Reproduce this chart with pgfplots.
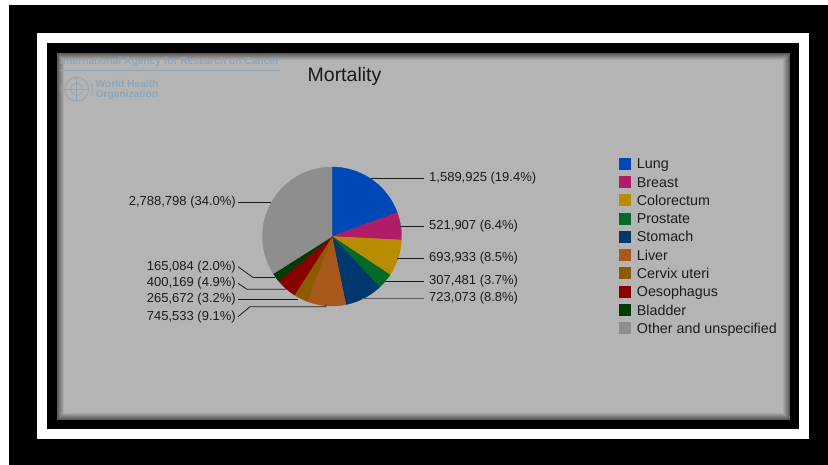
\documentclass[border=0pt]{standalone}
\usepackage{fontspec}
\setmainfont{Liberation Sans}
\usepackage{pgfplots}
\pgfplotsset{compat=1.18}
\definecolor{cLung}{HTML}{0048B8}
\definecolor{cBreast}{HTML}{B01C68}
\definecolor{cColo}{HTML}{B88C00}
\definecolor{cProst}{HTML}{006A26}
\definecolor{cStom}{HTML}{00386E}
\definecolor{cLiver}{HTML}{A8581A}
\definecolor{cCervix}{HTML}{8C5A00}
\definecolor{cOeso}{HTML}{880000}
\definecolor{cBlad}{HTML}{003C00}
\definecolor{cOther}{HTML}{8E8E8E}
\definecolor{panel}{HTML}{B4B4B4}
\definecolor{logo}{HTML}{8FA5B8}
\definecolor{txt}{HTML}{1C1C1C}
% shares (per cent) of the 10 categories
\def\pLung{19.4}
\def\pBreast{6.4}
\def\pColo{8.5}
\def\pProst{3.7}
\def\pStom{8.8}
\def\pLiver{9.1}
\def\pCervix{3.2}
\def\pOeso{4.9}
\def\pBlad{2.0}
\def\pOther{34.0}
\pgfmathsetmacro\aA{90}
\pgfmathsetmacro\aB{\aA-3.6*\pLung}
\pgfmathsetmacro\aC{\aB-3.6*\pBreast}
\pgfmathsetmacro\aD{\aC-3.6*\pColo}
\pgfmathsetmacro\aE{\aD-3.6*\pProst}
\pgfmathsetmacro\aF{\aE-3.6*\pStom}
\pgfmathsetmacro\aG{\aF-3.6*\pLiver}
\pgfmathsetmacro\aH{\aG-3.6*\pCervix}
\pgfmathsetmacro\aI{\aH-3.6*\pOeso}
\pgfmathsetmacro\aJ{\aI-3.6*\pBlad}
\pgfmathsetmacro\aK{\aJ-3.6*\pOther}
\def\cx{332}
\def\cy{228.5}
\def\rr{69.5}
\newcommand\lbl{\fontsize{13}{15}\selectfont}
\newcommand\logofont{\fontsize{10.2}{11}\selectfont\bfseries}
\begin{document}
\begin{tikzpicture}[x=1pt,y=1pt]
% frame
\fill[white] (0,0) rectangle (828,465);
\fill[black] (9,0) rectangle (828,460);
\fill[white] (37,26) rectangle (809,432);
\fill[black] (47,36) rectangle (799,422);
\fill[panel] (57,45) rectangle (790,412);
\foreach \i in {0,...,7}{
  \pgfmathsetmacro\m{50+\i*7.1}
  \draw[line width=1pt, color=panel!\m!black] (57+\i+0.5,45+\i+0.5) rectangle (790-\i-0.5,412-\i-0.5);
}
% logo
\node[anchor=west, inner sep=0, font=\logofont, text=logo] at (60,403.3) {International Agency for Research on Cancer};
\draw[logo, line width=0.6pt] (60,395) -- (280,395);
\node[anchor=west, inner sep=0, font=\logofont, text=logo] at (95.5,380.7) {World Health};
\node[anchor=west, inner sep=0, font=\logofont, text=logo] at (95.5,370) {Organization};
\draw[logo, line width=0.8pt] (76.7,375.7) circle (12);
\draw[logo, line width=0.6pt] (76.7,375.7) circle (6);
\draw[logo, line width=0.6pt] (76.7,363.7) -- (76.7,387.7) (64.7,375.7) -- (88.7,375.7);
\draw[logo, line width=0.8pt] (62,370) arc (200:160:16) (91.4,370) arc (-20:20:16);
\begin{axis}[
  at={(0,0)}, anchor=south west, scale only axis,
  width=828pt, height=465pt,
  xmin=0, xmax=828, ymin=0, ymax=465,
  hide axis, clip=false,
  legend cell align=left,
  legend image code/.code={\path[#1,draw=none] (0pt,-6pt) rectangle (12pt,6pt);},
  legend style={at={(axis cs:619,310.65)}, anchor=north west, draw=none, fill=none,
    inner sep=0pt, row sep=0pt,
    nodes={inner sep=0pt, text height=14.25pt, text depth=4.05pt,
      font=\fontsize{14.3}{15}\selectfont, text=txt},
    /tikz/every odd column/.style={column sep=5.7pt}},
]
\addplot[fill=cLung, draw=cLung, line width=0.3pt, domain=\aB:\aA, samples=40, variable=\t]
  ({\cx+\rr*cos(\t)}, {\cy+\rr*sin(\t)}) -- (axis cs:\cx,\cy) -- cycle;
\addlegendentry{Lung}
\addplot[fill=cBreast, draw=cBreast, line width=0.3pt, domain=\aC:\aB, samples=20, variable=\t]
  ({\cx+\rr*cos(\t)}, {\cy+\rr*sin(\t)}) -- (axis cs:\cx,\cy) -- cycle;
\addlegendentry{Breast}
\addplot[fill=cColo, draw=cColo, line width=0.3pt, domain=\aD:\aC, samples=20, variable=\t]
  ({\cx+\rr*cos(\t)}, {\cy+\rr*sin(\t)}) -- (axis cs:\cx,\cy) -- cycle;
\addlegendentry{Colorectum}
\addplot[fill=cProst, draw=cProst, line width=0.3pt, domain=\aE:\aD, samples=12, variable=\t]
  ({\cx+\rr*cos(\t)}, {\cy+\rr*sin(\t)}) -- (axis cs:\cx,\cy) -- cycle;
\addlegendentry{Prostate}
\addplot[fill=cStom, draw=cStom, line width=0.3pt, domain=\aF:\aE, samples=20, variable=\t]
  ({\cx+\rr*cos(\t)}, {\cy+\rr*sin(\t)}) -- (axis cs:\cx,\cy) -- cycle;
\addlegendentry{Stomach}
\addplot[fill=cLiver, draw=cLiver, line width=0.3pt, domain=\aG:\aF, samples=20, variable=\t]
  ({\cx+\rr*cos(\t)}, {\cy+\rr*sin(\t)}) -- (axis cs:\cx,\cy) -- cycle;
\addlegendentry{Liver}
\addplot[fill=cCervix, draw=cCervix, line width=0.3pt, domain=\aH:\aG, samples=12, variable=\t]
  ({\cx+\rr*cos(\t)}, {\cy+\rr*sin(\t)}) -- (axis cs:\cx,\cy) -- cycle;
\addlegendentry{Cervix uteri}
\addplot[fill=cOeso, draw=cOeso, line width=0.3pt, domain=\aI:\aH, samples=12, variable=\t]
  ({\cx+\rr*cos(\t)}, {\cy+\rr*sin(\t)}) -- (axis cs:\cx,\cy) -- cycle;
\addlegendentry{Oesophagus}
\addplot[fill=cBlad, draw=cBlad, line width=0.3pt, domain=\aJ:\aI, samples=8, variable=\t]
  ({\cx+\rr*cos(\t)}, {\cy+\rr*sin(\t)}) -- (axis cs:\cx,\cy) -- cycle;
\addlegendentry{Bladder}
\addplot[fill=cOther, draw=cOther, line width=0.3pt, domain=\aK:\aJ, samples=60, variable=\t]
  ({\cx+\rr*cos(\t)}, {\cy+\rr*sin(\t)}) -- (axis cs:\cx,\cy) -- cycle;
\addlegendentry{Other and unspecified}
% leader lines
\addplot[forget plot, txt, line width=0.8pt] coordinates {(371,287) (424,287)};
\addplot[forget plot, txt, line width=0.8pt] coordinates {(400,239) (424,239)};
\addplot[forget plot, txt, line width=0.8pt] coordinates {(397,207) (424,207)};
\addplot[forget plot, txt, line width=0.8pt] coordinates {(385,184) (424,184)};
\addplot[forget plot, black!65, line width=0.8pt] coordinates {(362,167) (424,167)};
\addplot[forget plot, txt, line width=0.8pt] coordinates {(238,263) (271,263)};
\addplot[forget plot, txt, line width=0.8pt] coordinates {(238,198.3) (253,187.5) (275,187.5)};
\addplot[forget plot, txt, line width=0.8pt] coordinates {(238,181.7) (247,175.7) (286,175.7)};
\addplot[forget plot, txt, line width=0.8pt] coordinates {(238,165.8) (298,165.8)};
\addplot[forget plot, txt, line width=0.8pt] coordinates {(238,148.3) (250,158.3) (326,158.3) (326,160.5)};
% labels
\node[anchor=west, inner sep=0, font=\lbl, text=txt] at (axis cs:429,287) {1,589,925 (19.4\%)};
\node[anchor=west, inner sep=0, font=\lbl, text=txt] at (axis cs:429,239) {521,907 (6.4\%)};
\node[anchor=west, inner sep=0, font=\lbl, text=txt] at (axis cs:429,207) {693,933 (8.5\%)};
\node[anchor=west, inner sep=0, font=\lbl, text=txt] at (axis cs:429,184) {307,481 (3.7\%)};
\node[anchor=west, inner sep=0, font=\lbl, text=txt] at (axis cs:429,167) {723,073 (8.8\%)};
\node[anchor=east, inner sep=0, font=\lbl, text=txt] at (axis cs:236,263) {2,788,798 (34.0\%)};
\node[anchor=east, inner sep=0, font=\lbl, text=txt] at (axis cs:236,198.3) {165,084 (2.0\%)};
\node[anchor=east, inner sep=0, font=\lbl, text=txt] at (axis cs:236,181.7) {400,169 (4.9\%)};
\node[anchor=east, inner sep=0, font=\lbl, text=txt] at (axis cs:236,165.8) {265,672 (3.2\%)};
\node[anchor=east, inner sep=0, font=\lbl, text=txt] at (axis cs:236,148.3) {745,533 (9.1\%)};
% title
\node[anchor=base, inner sep=0, font=\fontsize{19.5}{21}\selectfont, text=black!90] at (axis cs:344.5,383) {Mortality};
\end{axis}
\end{tikzpicture}
\end{document}
